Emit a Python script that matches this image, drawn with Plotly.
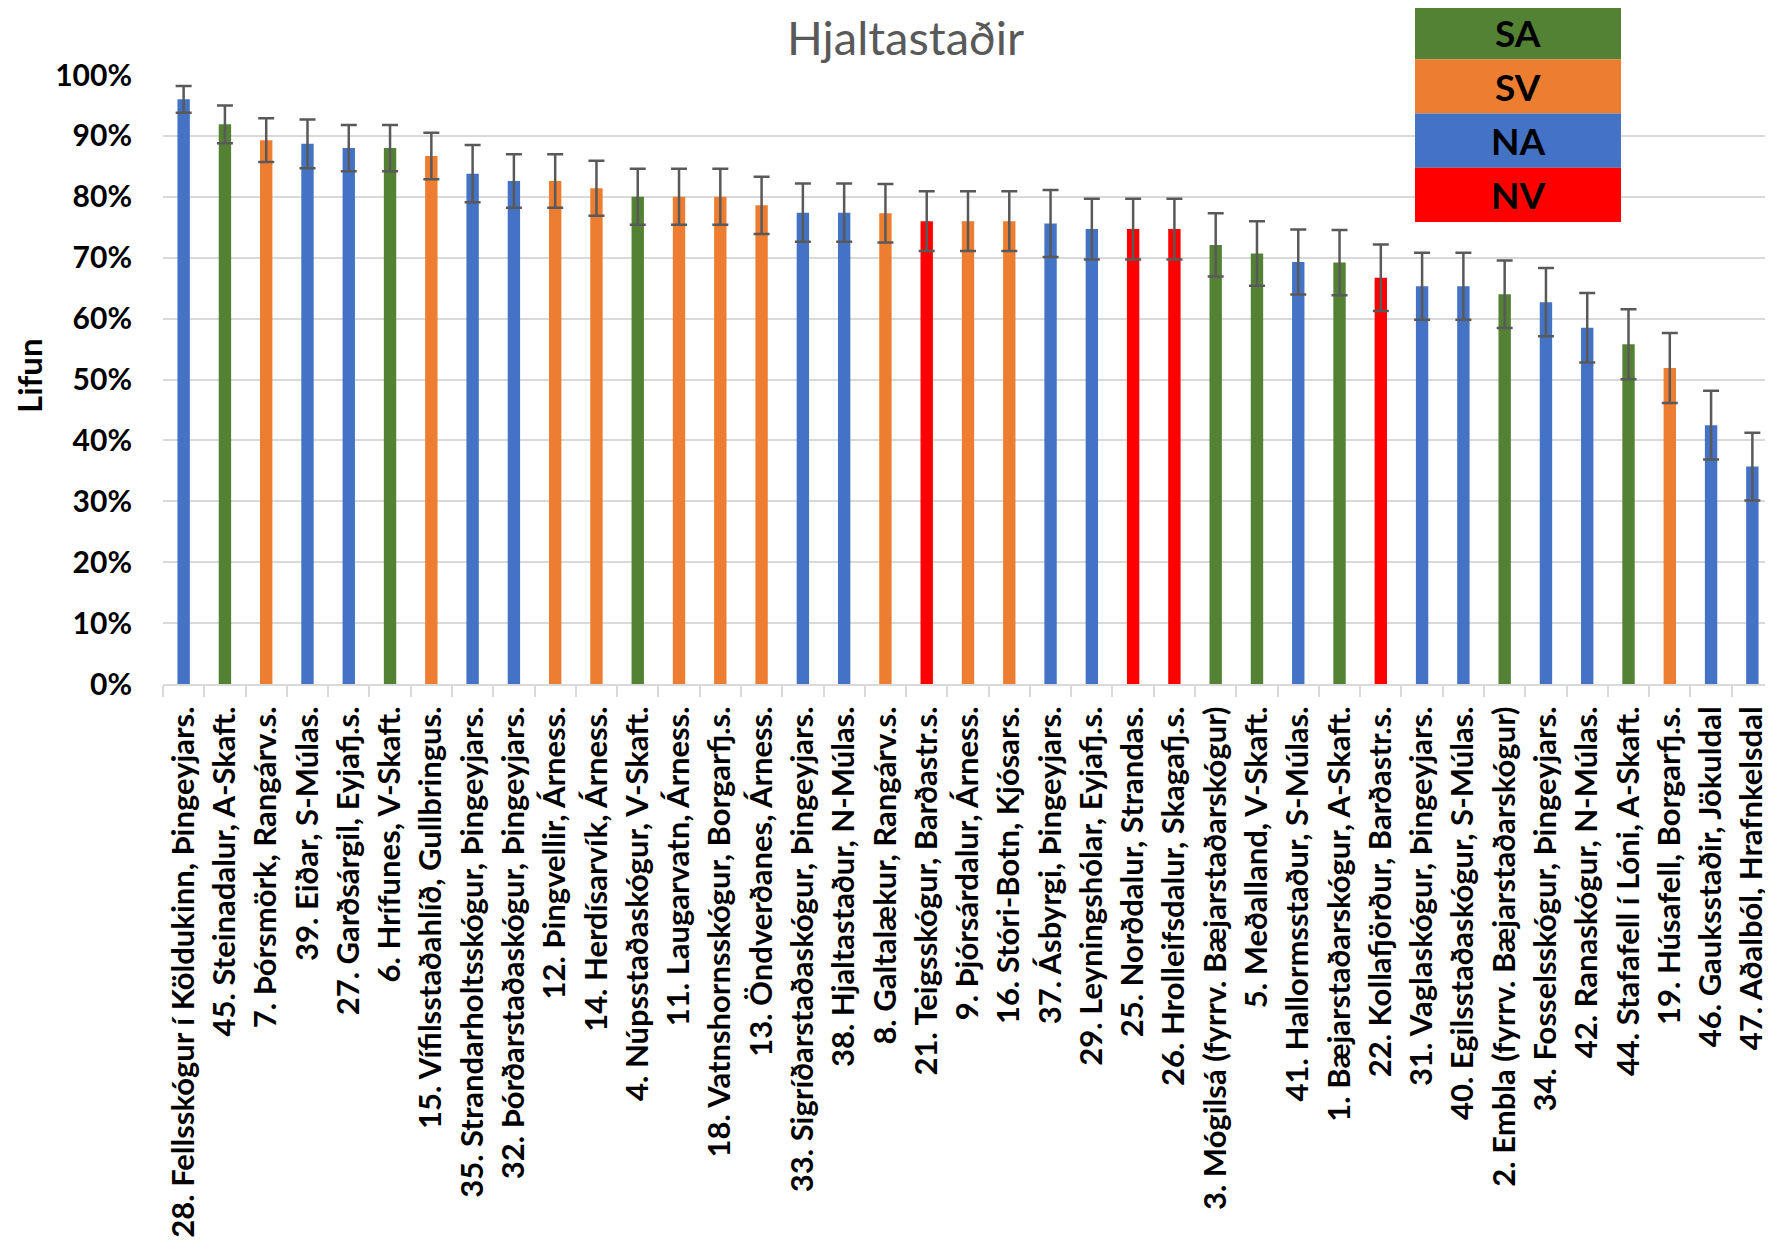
import plotly.graph_objects as go

# --- data ---
sites = [
    "28. Fellsskógur í Köldukinn, Þingeyjars.",
    "45. Steinadalur, A-Skaft.",
    "7. Þórsmörk, Rangárv.s.",
    "39. Eiðar, S-Múlas.",
    "27. Garðsárgil, Eyjafj.s.",
    "6. Hrífunes, V-Skaft.",
    "15. Vífilsstaðahlíð, Gullbringus.",
    "35. Strandarholtsskógur, Þingeyjars.",
    "32. Þórðarstaðaskógur, Þingeyjars.",
    "12. Þingvellir, Árness.",
    "14. Herdísarvík, Árness.",
    "4. Núpsstaðaskógur, V-Skaft.",
    "11. Laugarvatn, Árness.",
    "18. Vatnshornsskógur, Borgarfj.s.",
    "13. Öndverðanes, Árness.",
    "33. Sigríðarstaðaskógur, Þingeyjars.",
    "38. Hjaltastaður, N-Múlas.",
    "8. Galtalækur, Rangárv.s.",
    "21. Teigsskógur, Barðastr.s.",
    "9. Þjórsárdalur, Árness.",
    "16. Stóri-Botn, Kjósars.",
    "37. Ásbyrgi, Þingeyjars.",
    "29. Leyningshólar, Eyjafj.s.",
    "25. Norðdalur, Strandas.",
    "26. Hrolleifsdalur, Skagafj.s.",
    "3. Mógilsá (fyrrv. Bæjarstaðarskógur)",
    "5. Meðalland, V-Skaft.",
    "41. Hallormsstaður, S-Múlas.",
    "1. Bæjarstaðarskógur, A-Skaft.",
    "22. Kollafjörður, Barðastr.s.",
    "31. Vaglaskógur, Þingeyjars.",
    "40. Egilsstaðaskógur, S-Múlas.",
    "2. Embla (fyrrv. Bæjarstaðarskógur)",
    "34. Fosselsskógur, Þingeyjars.",
    "42. Ranaskógur, N-Múlas.",
    "44. Stafafell í Lóni, A-Skaft.",
    "19. Húsafell, Borgarfj.s.",
    "46. Gauksstaðir, Jökuldal",
    "47. Aðalból, Hrafnkelsdal",
]

survival = [
    96.0, 91.9, 89.3, 88.7, 88.0, 88.0, 86.7, 83.8, 82.6, 82.6,
    81.4, 80.0, 80.0, 80.0, 78.6, 77.4, 77.4, 77.3, 76.0, 76.0,
    76.0, 75.6, 74.7, 74.7, 74.7, 72.1, 70.7, 69.3, 69.2, 66.7,
    65.3, 65.3, 64.0, 62.7, 58.5, 55.8, 51.9, 42.5, 35.7,
]

error = [
    2.2, 3.1, 3.6, 4.0, 3.8, 3.8, 3.8, 4.7, 4.4, 4.4,
    4.5, 4.6, 4.6, 4.6, 4.7, 4.8, 4.8, 4.8, 4.9, 4.9,
    4.9, 5.5, 5.0, 5.0, 5.0, 5.2, 5.3, 5.35, 5.35, 5.45,
    5.5, 5.5, 5.55, 5.6, 5.7, 5.75, 5.75, 5.65, 5.55,
]

regions = [
    "NA", "SA", "SV", "NA", "NA", "SA", "SV", "NA", "NA", "SV",
    "SV", "SA", "SV", "SV", "SV", "NA", "NA", "SV", "NV", "SV",
    "SV", "NA", "NA", "NV", "NV", "SA", "SA", "NA", "SA", "NV",
    "NA", "NA", "SA", "NA", "NA", "SA", "SV", "NA", "NA",
]

legend_order = ["SA", "SV", "NA", "NV"]
region_colors = {"SA": "#548235", "SV": "#ED7D31", "NA": "#4472C4", "NV": "#FF0000"}

title_text = "Hjaltastaðir"
y_title = "Lifun"
y_ticks = [0, 10, 20, 30, 40, 50, 60, 70, 80, 90, 100]

# --- layout geometry (page pixels; the page body adds an 8px margin) ---
PAGE_W, PAGE_H = 1773, 1251
OFF = 8
W, H = PAGE_W - OFF, PAGE_H - OFF
plot_left, plot_right = 163, 1773
plot_top, plot_bottom = 75, 684
plot_w = plot_right - plot_left
plot_h = plot_bottom - plot_top


def px_x(x):
    return (x - plot_left) / plot_w


def px_y(y):
    return (plot_bottom - y) / plot_h


FONT = "Lato"

fig = go.Figure()
fig.add_trace(
    go.Bar(
        x=sites,
        y=[v / 100 for v in survival],
        marker=dict(color=[region_colors[r] for r in regions], line=dict(width=0)),
        error_y=dict(
            type="data",
            array=[e / 100 for e in error],
            color="#595959",
            thickness=2.5,
            width=8,
        ),
        showlegend=False,
    )
)

# custom stacked colour legend (top right)
leg_x0, leg_x1 = 1415, 1621
leg_top, leg_bottom = 5, 222
band = (leg_bottom - leg_top) / len(legend_order)
shapes = []
annotations = []
for i, reg in enumerate(legend_order):
    y0 = leg_top + i * band
    y1 = y0 + band
    shapes.append(
        dict(
            type="rect", xref="paper", yref="paper",
            x0=px_x(leg_x0), x1=px_x(leg_x1), y0=px_y(y1), y1=px_y(y0),
            fillcolor=region_colors[reg], line=dict(width=0), layer="above",
        )
    )
    annotations.append(
        dict(
            text=reg, xref="paper", yref="paper",
            x=px_x((leg_x0 + leg_x1) / 2), y=px_y((y0 + y1) / 2),
            xanchor="center", yanchor="middle", showarrow=False,
            font=dict(family=FONT, size=37, color="black", weight="bold"),
        )
    )

annotations.append(
    dict(
        text=title_text, xref="paper", yref="paper",
        x=px_x(905), y=px_y(OFF), xanchor="center", yanchor="top",
        borderpad=0, showarrow=False, font=dict(family=FONT, size=47, color="#595959"),
    )
)
annotations.append(
    dict(
        text=y_title, xref="paper", yref="paper",
        x=px_x(OFF), y=px_y(376), xanchor="left", yanchor="middle", textangle=-90,
        borderpad=0, showarrow=False,
        font=dict(family=FONT, size=33, color="black", weight="bold"),
    )
)

fig.update_layout(
    width=W,
    height=H,
    margin=dict(
        l=plot_left - OFF, r=PAGE_W - plot_right, t=plot_top - OFF,
        b=H - (plot_bottom - OFF), autoexpand=False,
    ),
    plot_bgcolor="white",
    paper_bgcolor="white",
    bargap=0.7,
    shapes=shapes,
    annotations=annotations,
    xaxis=dict(
        type="category",
        tickangle=-90,
        tickfont=dict(family=FONT, size=31, color="black", weight="bold"),
        showline=True,
        linecolor="#d9d9d9",
        linewidth=2,
        ticks="outside",
        tickson="boundaries",
        ticklen=11,
        tickwidth=2,
        tickcolor="#d9d9d9",
        ticklabelstandoff=8,
        showgrid=False,
    ),
    yaxis=dict(
        range=[0, 1.0],
        tickvals=[t / 100 for t in y_ticks],
        ticktext=[f"{t}%" for t in y_ticks],
        tickfont=dict(family=FONT, size=30, color="black", weight="bold"),
        showgrid=True,
        gridcolor="#d9d9d9",
        gridwidth=2,
        zeroline=False,
        ticks="outside",
        ticklen=24,
        tickcolor="rgba(0,0,0,0)",
    ),
)

fig.write_html("out.html")
